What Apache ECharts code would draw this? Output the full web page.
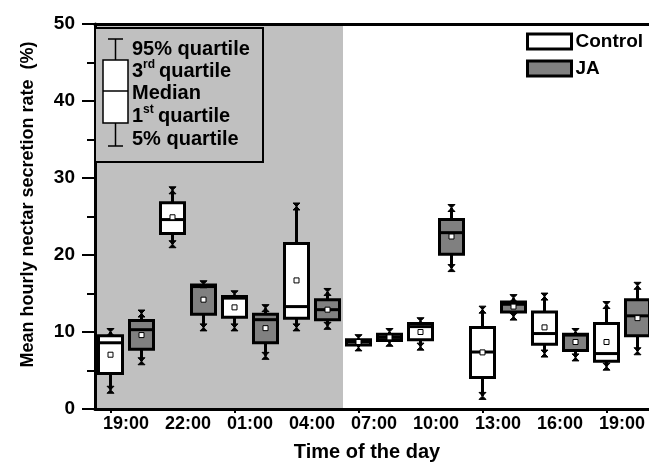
<!DOCTYPE html>
<html>
<head>
<meta charset="utf-8">
<script src="https://cdn.jsdelivr.net/npm/echarts@6/dist/echarts.min.js"></script>
<style>html,body{margin:0;padding:0;background:#fff}#chart{width:649px;height:467px}</style>
</head>
<body>
<div id="chart"></div>
<script>
// ---- data ----
const times = ['19:00', '22:00', '01:00', '04:00', '07:00', '10:00', '13:00', '16:00', '19:00'];
const yTicks = [0, 10, 20, 30, 40, 50];

// Control: 5% / 1st quartile / median / 3rd quartile / 95% / mean
const controlLow    = [2.5, 21.4, 10.6, 10.6, 8.0, 8.1, 1.7, 7.2, 5.5];
const controlQ1     = [4.6, 22.8, 11.9, 11.8, 8.3, 9.0, 4.1, 8.4, 6.2];
const controlMedian = [8.6, 24.6, 14.4, 13.3, 8.7, 10.7, 7.4, 9.8, 7.2];
const controlQ3     = [9.5, 26.8, 14.6, 21.5, 9.0, 11.1, 10.6, 12.6, 11.1];
const controlHigh   = [10.0, 28.4, 14.9, 26.3, 9.2, 11.4, 12.9, 14.6, 13.5];
const controlMean   = [7.05, 24.9, 13.2, 16.7, 8.7, 10.0, 7.35, 10.6, 8.7];

// JA
const jaLow    = [6.2, 10.6, 6.9, 10.8, 8.6, 18.3, 12.0, 6.7, 7.5];
const jaQ1     = [7.75, 12.3, 8.6, 11.6, 8.9, 20.1, 12.6, 7.6, 9.5];
const jaMedian = [10.3, 15.9, 11.6, 12.9, 9.3, 22.9, 13.6, 9.6, 12.1];
const jaQ3     = [11.5, 16.1, 12.3, 14.2, 9.7, 24.6, 13.9, 9.7, 14.2];
const jaHigh   = [12.4, 16.2, 13.1, 15.2, 10.0, 26.1, 14.4, 10.0, 16.0];
const jaMean   = [9.6, 14.2, 10.5, 12.9, 9.3, 22.4, 13.3, 8.7, 11.8];

// night period (shaded) spans the first four time points
const nightTimes = ['19:00', '22:00', '01:00', '04:00'];

// ---- build ----
const slots = [];
times.forEach(function (t) { slots.push(t + ' Control'); slots.push(t + ' JA'); });

function build(low, q1, med, q3, high, mean, offset) {
  return times.map(function (t, i) {
    return [2 * i + offset, low[i], q1[i], med[i], q3[i], high[i], mean[i]];
  });
}
const controlData = build(controlLow, controlQ1, controlMedian, controlQ3, controlHigh, controlMean, 0);
const jaData = build(jaLow, jaQ1, jaMedian, jaQ3, jaHigh, jaMean, 1);

function boxRenderer(fill) {
  return function (params, api) {
    const x = api.value(0);
    const pLo = api.coord([x, api.value(1)]);
    const pQ1 = api.coord([x, api.value(2)]);
    const pMed = api.coord([x, api.value(3)]);
    const pQ3 = api.coord([x, api.value(4)]);
    const pHi = api.coord([x, api.value(5)]);
    const pMean = api.coord([x, api.value(6)]);
    const cx = pMed[0];
    const hw = 12;
    function marker(y) {
      return {
        type: 'polygon',
        shape: { points: [[cx - 3.5, y - 3.5], [cx + 3.5, y - 3.5], [cx - 3.5, y + 3.5], [cx + 3.5, y + 3.5]] },
        style: { fill: '#000', stroke: '#000', lineWidth: 1 }
      };
    }
    return {
      type: 'group',
      children: [
        { type: 'line', shape: { x1: cx, y1: pHi[1], x2: cx, y2: pQ3[1] }, style: { stroke: '#000', lineWidth: 3 } },
        { type: 'line', shape: { x1: cx, y1: pQ1[1], x2: cx, y2: pLo[1] }, style: { stroke: '#000', lineWidth: 3 } },
        { type: 'rect', shape: { x: cx - hw, y: pQ3[1], width: 2 * hw, height: pQ1[1] - pQ3[1] },
          style: { fill: fill, stroke: '#000', lineWidth: 3 } },
        { type: 'line', shape: { x1: cx - hw, y1: pMed[1], x2: cx + hw, y2: pMed[1] }, style: { stroke: '#000', lineWidth: 3 } },
        marker(pHi[1]),
        marker(pLo[1]),
        { type: 'rect', shape: { x: cx - 2.5, y: pMean[1] - 2.5, width: 5, height: 5 },
          style: { fill: '#fff', stroke: '#000', lineWidth: 1 } }
      ]
    };
  };
}

const chart = echarts.init(document.getElementById('chart'), null, { renderer: 'canvas' });
const FONT = 'Liberation Sans, Arial, sans-serif';
const keyX = 132, keyFont = 'bold 20px ' + FONT, supFont = 'bold 12px ' + FONT;

const keyElements = [
  { type: 'rect', shape: { x: 95, y: 28, width: 168, height: 134 }, style: { fill: '#c0c0c0', stroke: '#000', lineWidth: 2 } },
  { type: 'line', shape: { x1: 108, y1: 39, x2: 123, y2: 39 }, style: { stroke: '#000', lineWidth: 1.5 } },
  { type: 'line', shape: { x1: 115.5, y1: 39, x2: 115.5, y2: 60 }, style: { stroke: '#000', lineWidth: 1.5 } },
  { type: 'line', shape: { x1: 115.5, y1: 123, x2: 115.5, y2: 146 }, style: { stroke: '#000', lineWidth: 1.5 } },
  { type: 'line', shape: { x1: 108, y1: 146, x2: 123, y2: 146 }, style: { stroke: '#000', lineWidth: 1.5 } },
  { type: 'rect', shape: { x: 103, y: 60, width: 25, height: 63 }, style: { fill: '#fff', stroke: '#000', lineWidth: 1.5 } },
  { type: 'line', shape: { x1: 103, y1: 91, x2: 128, y2: 91 }, style: { stroke: '#000', lineWidth: 1.5 } },
  { type: 'text', x: keyX, y: 49.5, style: { text: '95% quartile', font: keyFont, fill: '#000', verticalAlign: 'middle' } },
  { type: 'text', x: keyX, y: 71, style: { text: '3', font: keyFont, fill: '#000', verticalAlign: 'middle' } },
  { type: 'text', x: keyX + 11, y: 64.5, style: { text: 'rd', font: supFont, fill: '#000', verticalAlign: 'middle' } },
  { type: 'text', x: keyX + 27, y: 71, style: { text: 'quartile', font: keyFont, fill: '#000', verticalAlign: 'middle' } },
  { type: 'text', x: keyX, y: 93.5, style: { text: 'Median', font: keyFont, fill: '#000', verticalAlign: 'middle' } },
  { type: 'text', x: keyX, y: 116, style: { text: '1', font: keyFont, fill: '#000', verticalAlign: 'middle' } },
  { type: 'text', x: keyX + 11, y: 109.5, style: { text: 'st', font: supFont, fill: '#000', verticalAlign: 'middle' } },
  { type: 'text', x: keyX + 26, y: 116, style: { text: 'quartile', font: keyFont, fill: '#000', verticalAlign: 'middle' } },
  { type: 'text', x: keyX, y: 139, style: { text: '5% quartile', font: keyFont, fill: '#000', verticalAlign: 'middle' } }
].map(function (el, i) { el.z = 100 + i; return el; });

const option = {
  animation: false,
  backgroundColor: '#fff',
  grid: { left: 95, top: 24, width: 558, bottom: 58, outerBoundsMode: 'none', containLabel: false },
  xAxis: [
    {
      type: 'category', data: slots, position: 'bottom', z: 10,
      axisLine: { onZero: false, lineStyle: { color: '#000', width: 3 } },
      axisTick: { show: true, alignWithLabel: true, length: 4, lineStyle: { color: '#000', width: 2 } },
      axisLabel: { show: false }, splitLine: { show: false }
    },
    {
      type: 'category', data: times, position: 'bottom', z: 10,
      axisLine: { show: false, onZero: false }, axisTick: { show: false },
      axisLabel: { color: '#000', fontFamily: FONT, fontWeight: 'bold', fontSize: 18, margin: 6 },
      name: 'Time of the day', nameLocation: 'middle', nameGap: 33,
      nameTextStyle: { color: '#000', fontFamily: FONT, fontWeight: 'bold', fontSize: 20, padding: [0, 14, 0, 0] }
    },
    {
      type: 'category', data: times, position: 'top', z: 10,
      axisLine: { onZero: false, lineStyle: { color: '#000', width: 3 } },
      axisTick: { show: false }, axisLabel: { show: false }
    }
  ],
  yAxis: {
    type: 'value', min: yTicks[0], max: yTicks[yTicks.length - 1], interval: 10, z: 10,
    axisLine: { show: true, lineStyle: { color: '#000', width: 3 } },
    axisTick: { show: true, length: 13, lineStyle: { color: '#000', width: 2 } },
    minorTick: { show: true, splitNumber: 2, length: 8, lineStyle: { color: '#000', width: 2 } },
    splitLine: { show: false },
    axisLabel: { color: '#000', fontFamily: FONT, fontWeight: 'bold', fontSize: 19, margin: 20 },
    name: 'Mean hourly nectar secretion rate  (%)', nameLocation: 'middle', nameGap: 58, nameRotate: 90,
    nameTextStyle: { color: '#000', fontFamily: FONT, fontWeight: 'bold', fontSize: 18, padding: [0, 0, 0, 24] }
  },
  legend: {
    orient: 'vertical', left: 526, top: 32, itemWidth: 44, itemHeight: 15, itemGap: 8, padding: 0,
    icon: 'rect',
    textStyle: { color: '#000', fontFamily: FONT, fontWeight: 'bold', fontSize: 19, padding: [0, 0, 0, -1] },
    data: [
      { name: 'Control', itemStyle: { color: '#fff', borderColor: '#000', borderWidth: 3 } },
      { name: 'JA', itemStyle: { color: '#808080', borderColor: '#000', borderWidth: 3 } }
    ]
  },
  graphic: [{ type: 'group', z: 100, children: keyElements }],
  series: [
    {
      type: 'custom', name: 'night', xAxisIndex: 0, yAxisIndex: 0, silent: true, z: 1,
      data: [[0]],
      renderItem: function (params, api) {
        const bw = api.size([1, 0])[0];
        const a = api.coord([2 * times.indexOf(nightTimes[0]), yTicks[yTicks.length - 1]]);
        const b = api.coord([2 * times.indexOf(nightTimes[nightTimes.length - 1]) + 1, yTicks[0]]);
        return { type: 'rect', shape: { x: a[0] - bw / 2, y: a[1], width: b[0] - a[0] + bw, height: b[1] - a[1] }, style: { fill: '#c0c0c0' } };
      }
    },
    {
      type: 'custom', name: 'Control', xAxisIndex: 0, yAxisIndex: 0, z: 5,
      itemStyle: { color: '#fff' },
      encode: { x: 0, y: [1, 2, 3, 4, 5] },
      data: controlData, renderItem: boxRenderer('#fff')
    },
    {
      type: 'custom', name: 'JA', xAxisIndex: 0, yAxisIndex: 0, z: 5,
      itemStyle: { color: '#808080' },
      encode: { x: 0, y: [1, 2, 3, 4, 5] },
      data: jaData, renderItem: boxRenderer('#808080')
    }
  ]
};
chart.setOption(option);
</script>
</body>
</html>
